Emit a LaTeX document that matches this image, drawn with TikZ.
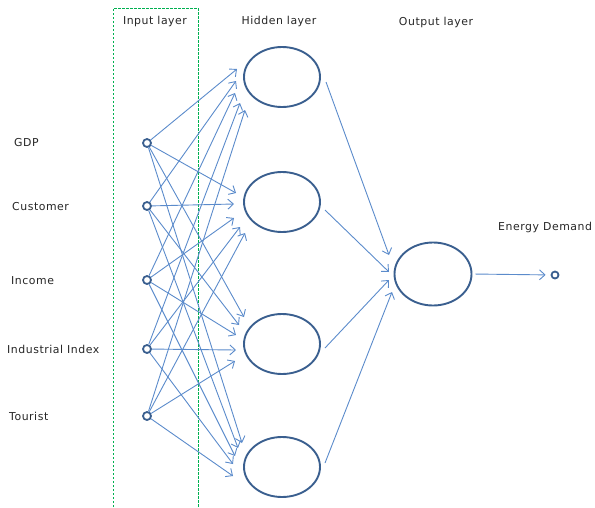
\documentclass[tikz,border=0pt]{standalone}
\usepackage{fontspec}
\newfontfamily\labfont[LetterSpace=5]{DejaVu Sans}
\usetikzlibrary{arrows.meta,shapes.geometric}
\definecolor{arrowblue}{HTML}{5B8BCB}
\definecolor{ringblue}{HTML}{3A5F8F}
\definecolor{boxgreen}{HTML}{00B050}
\tikzset{
  lab/.style={font=\labfont\fontsize{10.9}{13}\selectfont, inner sep=0pt, text=black!85},
  innode/.style={circle, draw=ringblue, line width=1.8pt, minimum size=8pt, inner sep=0pt},
  neuron/.style={ellipse, draw=ringblue, line width=1.9pt, minimum width=76pt, minimum height=60pt, inner sep=0pt},
  link/.style={draw=arrowblue, line width=0.9pt, -{Straight Barb[length=5.5pt,width=10pt]}},
  layerbox/.style={draw=boxgreen, line width=1pt, dash pattern=on 2.5pt off 1.5pt}
}
\begin{document}
\begin{tikzpicture}[x=1pt,y=-1pt]
\useasboundingbox (0,0) rectangle (595,507);
% dashed input-layer box
\coordinate (bl) at (113,507);
\coordinate (tl) at (113,8);
\coordinate (tr) at (198,8);
\coordinate (br) at (198,507);
\draw[layerbox] (bl) -- (tl) -- (tr) -- (br);
% layer titles
\node[lab] (tin) at (155,21) {Input layer};
\node[lab] (thid) at (279,21) {Hidden layer};
\node[lab] (tout) at (436,22) {Output layer};
% input labels
\node[lab, anchor=west] (l1) at (14,143) {GDP};
\node[lab, anchor=west] (l2) at (12,207) {Customer};
\node[lab, anchor=west] (l3) at (11,281) {Income};
\node[lab, anchor=west] (l4) at (7,349) {Industrial Index};
\node[lab, anchor=west] (l5) at (9,416) {Tourist};
\node[lab, anchor=west] (led) at (498,227) {Energy Demand};
% input nodes
\node[innode] (i1) at (147,143) {};
\node[innode] (i2) at (147,206) {};
\node[innode] (i3) at (147,280) {};
\node[innode] (i4) at (147,349) {};
\node[innode] (i5) at (147,416) {};
% hidden nodes
\node[neuron] (h1) at (282,77) {};
\node[neuron] (h2) at (282,202) {};
\node[neuron] (h3) at (282,344) {};
\node[neuron] (h4) at (282,467) {};
% output node
\node[neuron, minimum width=77pt, minimum height=63pt] (o) at (433,274) {};
\node[innode, minimum size=7pt] (ed) at (555,275) {};
% arrow tips near hidden nodes: t<hidden><input>
\coordinate (t11) at (237,69);
\coordinate (t12) at (236,81);
\coordinate (t13) at (235,93);
\coordinate (t14) at (240,103);
\coordinate (t15) at (245,110);
\coordinate (t21) at (236,193);
\coordinate (t22) at (234,204);
\coordinate (t23) at (234,218);
\coordinate (t24) at (240,227);
\coordinate (t25) at (245,233);
\coordinate (t31) at (244,317);
\coordinate (t32) at (239,325);
\coordinate (t33) at (236,335);
\coordinate (t34) at (236,350);
\coordinate (t35) at (235,361);
\coordinate (t41) at (242,443);
\coordinate (t42) at (238,448);
\coordinate (t43) at (235,456);
\coordinate (t44) at (233,464);
\coordinate (t45) at (233,476);
% input -> hidden
\foreach \h in {1,...,4}{
  \foreach \i in {1,...,5}{
    \draw[link] (i\i) -- (t\h\i);
  }
}
% hidden -> output
\coordinate (s1) at (326,82);
\coordinate (s2) at (325,210);
\coordinate (s3) at (325,348);
\coordinate (s4) at (325,463);
\coordinate (e1) at (389,255);
\coordinate (e2) at (389,272);
\coordinate (e3) at (389,280);
\coordinate (e4) at (392,292);
\foreach \k in {1,...,4}{
  \draw[link] (s\k) -- (e\k);
}
% output -> energy demand
\draw[link, shorten <=3pt, shorten >=5pt] (o.east) -- (ed);
\end{tikzpicture}
\end{document}
